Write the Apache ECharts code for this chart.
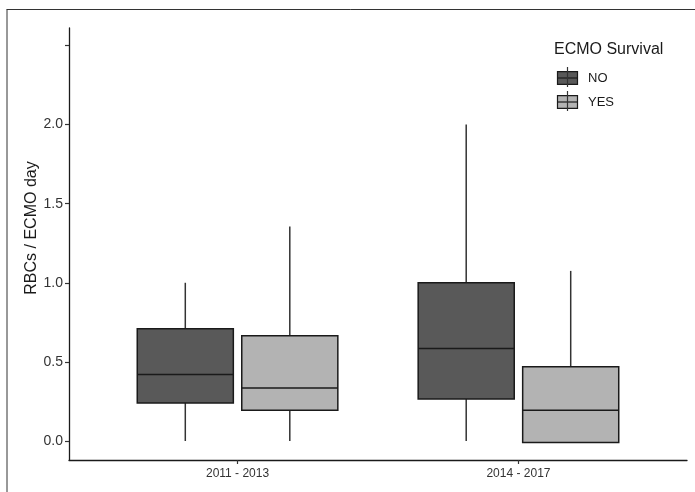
<!DOCTYPE html>
<html>
<head>
<meta charset="utf-8">
<script src="https://cdn.jsdelivr.net/npm/echarts@6/dist/echarts.min.js"></script>
<style>
html,body{margin:0;padding:0;background:#fff;}
#chart{width:695px;height:492px;}
</style>
</head>
<body>
<div id="chart"></div>
<script>
const categories = ['2011 - 2013', '2014 - 2017'];
const groupNames = ['NO', 'YES'];
const groupColors = ['#595959', '#b3b3b3'];
// [min, Q1, median, Q3, max] per category
const noStats = [[0.0, 0.24, 0.42, 0.71, 1.0], [0.0, 0.265, 0.585, 1.0, 2.0]];
const yesStats = [[0.0, 0.195, 0.335, 0.665, 1.355], [-0.01, -0.01, 0.195, 0.47, 1.075]];
const yTickValues = [0, 0.5, 1, 1.5, 2, 2.5];
const yLabelValues = [0, 0.5, 1, 1.5, 2];
const xTickValues = [1, 2];

const FONT = '"Liberation Sans", Arial, Helvetica, sans-serif';
const chart = echarts.init(document.getElementById('chart'), null, {renderer: 'canvas'});

const offsets = [-0.186, 0.186];
const halfW = 0.171;

function makeSeries(name, stats, idx) {
  return {
    name: name,
    type: 'custom',
    clip: false,
    encode: {x: 0, y: [1, 2, 3, 4, 5]},
    data: stats.map((s, i) => [i + 1].concat(s)),
    renderItem: function (params, api) {
      const cx = api.value(0) + offsets[idx];
      const mn = api.value(1), q1 = api.value(2), med = api.value(3), q3 = api.value(4), mx = api.value(5);
      const pMax = api.coord([cx, mx]);
      const pQ3 = api.coord([cx, q3]);
      const pQ1 = api.coord([cx, q1]);
      const pMin = api.coord([cx, mn]);
      const lt = api.coord([cx - halfW, q3]);
      const rb = api.coord([cx + halfW, q1]);
      const pm1 = api.coord([cx - halfW, med]);
      const pm2 = api.coord([cx + halfW, med]);
      const wStyle = {stroke: '#333333', lineWidth: 1.5};
      return {
        type: 'group',
        children: [
          {type: 'line', shape: {x1: pMax[0], y1: pMax[1], x2: pQ3[0], y2: pQ3[1]}, style: wStyle},
          {type: 'line', shape: {x1: pQ1[0], y1: pQ1[1], x2: pMin[0], y2: pMin[1]}, style: wStyle},
          {type: 'rect', shape: {x: lt[0], y: lt[1], width: rb[0] - lt[0], height: rb[1] - lt[1]},
            style: {fill: groupColors[idx], stroke: '#1a1a1a', lineWidth: 1.5}},
          {type: 'line', shape: {x1: pm1[0], y1: pm1[1], x2: pm2[0], y2: pm2[1]}, style: {stroke: '#1a1a1a', lineWidth: 1.5}}
        ]
      };
    }
  };
}

function legendKey(y, color, label) {
  return [
    {type: 'rect', shape: {x: 557.5, y: y - 6.3, width: 20, height: 12.6}, style: {fill: color, stroke: '#1a1a1a', lineWidth: 1.2}},
    {type: 'line', shape: {x1: 557.5, y1: y, x2: 577.5, y2: y}, style: {stroke: '#1a1a1a', lineWidth: 1.2}},
    {type: 'line', shape: {x1: 567.5, y1: y - 11, x2: 567.5, y2: y + 9}, style: {stroke: '#333333', lineWidth: 1.2}},
    {type: 'text', x: 588, y: y, style: {text: label, font: '13px ' + FONT, fill: '#1a1a1a', textVerticalAlign: 'middle', textAlign: 'left'}}
  ];
}

const option = {
  animation: false,
  backgroundColor: '#ffffff',
  grid: {left: 69, right: 8, top: 28, bottom: 32, containLabel: false},
  xAxis: {
    type: 'value', min: 0.4, max: 2.6,
    splitLine: {show: false},
    axisLine: {show: true, onZero: false, lineStyle: {color: '#1a1a1a', width: 1.3}},
    axisTick: {show: true, customValues: xTickValues, length: 4, lineStyle: {color: '#333', width: 1.2}},
    axisLabel: {show: true, customValues: xTickValues, formatter: v => categories[Math.round(v) - 1] || '',
      fontSize: 12, fontFamily: FONT, color: '#333', margin: 8}
  },
  yAxis: {
    type: 'value', min: -0.12, max: 2.61,
    splitLine: {show: false},
    axisLine: {show: true, onZero: false, lineStyle: {color: '#1a1a1a', width: 1.3}},
    axisTick: {show: true, customValues: yTickValues, length: 4, lineStyle: {color: '#333', width: 1.2}},
    axisLabel: {show: true, customValues: yLabelValues, formatter: v => v.toFixed(1),
      fontSize: 14, fontFamily: FONT, color: '#333', margin: 6}
  },
  series: [makeSeries(groupNames[0], noStats, 0), makeSeries(groupNames[1], yesStats, 1)],
  graphic: [
    {type: 'line', shape: {x1: 6.5, y1: 9.5, x2: 695, y2: 9.5}, style: {stroke: '#333', lineWidth: 1}},
    {type: 'line', shape: {x1: 7, y1: 9.5, x2: 7, y2: 492}, style: {stroke: '#333', lineWidth: 1}},
    {type: 'text', x: 32, y: 228, rotation: Math.PI / 2,
      style: {text: 'RBCs / ECMO day', font: '16px ' + FONT, fill: '#1a1a1a', textAlign: 'center', textVerticalAlign: 'middle'}},
    {type: 'text', x: 554, y: 50,
      style: {text: 'ECMO Survival', font: '16px ' + FONT, fill: '#1a1a1a', textAlign: 'left', textVerticalAlign: 'middle'}}
  ].concat(legendKey(78, groupColors[0], groupNames[0])).concat(legendKey(102, groupColors[1], groupNames[1]))
};
chart.setOption(option);
</script>
</body>
</html>
